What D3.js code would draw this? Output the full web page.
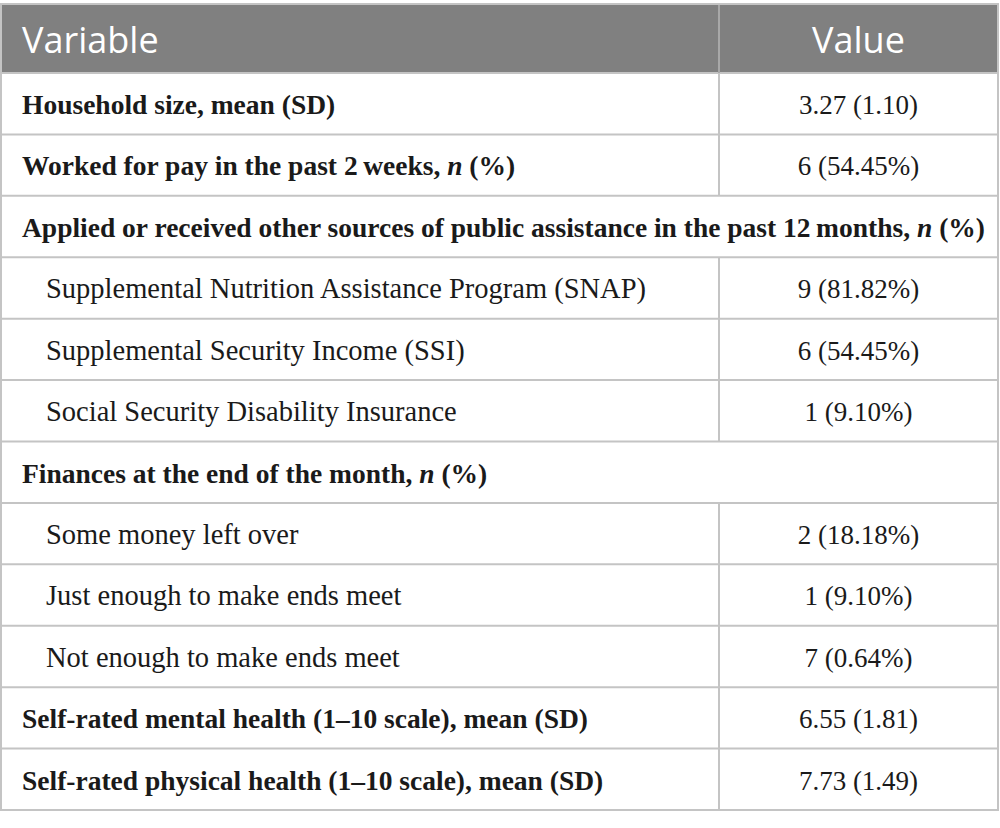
<!DOCTYPE html>
<html>
<head>
<meta charset="utf-8">
<title>Table</title>
<style>
  body { margin: 0; background: #fff; }
  svg { display: block; }
  .hdr { font-family: "Open Sans", sans-serif; fill: #fff; font-size: 36px; }
  .cell { font-family: "Liberation Serif", serif; fill: #1a1a1a; font-size: 27px; }
  .cell.bold { font-size: 27.5px; }
  .cell.sub { font-size: 28.5px; }
</style>
</head>
<body>
<div id="viewport"></div>
<script src="https://cdn.jsdelivr.net/npm/d3@7"></script>
<script>
// column headers
var headers = ["Variable", "Value"];

// row labels; *n* marks the italic n
var labels = [
  "Household size, mean (SD)",
  "Worked for pay in the past 2\u2009weeks, *n* (%)",
  "Applied or received other sources of public assistance in the past 12\u2009months, *n* (%)",
  "Supplemental Nutrition Assistance Program (SNAP)",
  "Supplemental Security Income (SSI)",
  "Social Security Disability Insurance",
  "Finances at the end of the month, *n* (%)",
  "Some money left over",
  "Just enough to make ends meet",
  "Not enough to make ends meet",
  "Self-rated mental health (1\u201310 scale), mean (SD)",
  "Self-rated physical health (1\u201310 scale), mean (SD)"
];

// row kind: b = bold row, g = bold group heading spanning, s = indented sub-row
var kinds = ["b", "b", "g", "s", "s", "s", "g", "s", "s", "s", "b", "b"];

var values = [
  "3.27 (1.10)", "6 (54.45%)", "", "9 (81.82%)", "6 (54.45%)", "1 (9.10%)",
  "", "2 (18.18%)", "1 (9.10%)", "7 (0.64%)", "6.55 (1.81)", "7.73 (1.49)"
];

var W = 1000, H = 828;
var x0 = 1, x1 = 998, y0 = 4, headBottom = 73, y1 = 810, split = 719;
var lineCol = "#c4c4c4";

var svg = d3.select("#viewport").append("svg")
  .attr("width", W).attr("height", H);

var y = d3.scaleBand()
  .domain(d3.range(labels.length))
  .range([headBottom, y1])
  .padding(0);

// header
svg.append("rect")
  .attr("x", x0).attr("y", y0)
  .attr("width", x1 - x0).attr("height", headBottom - y0)
  .attr("fill", "#808080");

svg.append("text").attr("class", "hdr")
  .attr("x", 22).attr("y", y0 + 49)
  .text(headers[0]);
svg.append("text").attr("class", "hdr")
  .attr("x", (split + x1) / 2).attr("y", y0 + 49)
  .attr("text-anchor", "middle")
  .text(headers[1]);

var rows = svg.selectAll("g.row")
  .data(labels.map(function (d, i) { return {label: d, kind: kinds[i], value: values[i], i: i}; }))
  .enter().append("g")
  .attr("class", "row")
  .attr("transform", function (d) { return "translate(0," + y(d.i) + ")"; });

// label text with italic n
rows.append("text")
  .attr("class", function (d) { return d.kind == "s" ? "cell sub" : "cell bold"; })
  .attr("x", function (d) { return d.kind == "s" ? 46 : 22; })
  .attr("y", 41)
  .attr("font-weight", function (d) { return d.kind == "s" ? "normal" : "bold"; })
  .each(function (d) {
    var t = d3.select(this);
    d.label.split("*").forEach(function (part, k) {
      if (!part) return;
      t.append("tspan")
        .attr("font-style", k % 2 ? "italic" : null)
        .text(part);
    });
  });

rows.append("text").attr("class", "cell")
  .attr("x", (split + x1) / 2).attr("y", 41)
  .attr("text-anchor", "middle")
  .text(function (d) { return d.value; });

// horizontal rules
svg.selectAll("line.h")
  .data(d3.range(labels.length + 1))
  .enter().append("line")
  .attr("x1", x0).attr("x2", x1)
  .attr("y1", function (i) { return i < labels.length ? y(i) : y1; })
  .attr("y2", function (i) { return i < labels.length ? y(i) : y1; })
  .attr("stroke", lineCol).attr("stroke-width", 2);

// vertical divider, skipped on group rows
svg.selectAll("line.v")
  .data(d3.range(labels.length).filter(function (i) { return kinds[i] != "g"; }))
  .enter().append("line")
  .attr("x1", split).attr("x2", split)
  .attr("y1", function (i) { return y(i); })
  .attr("y2", function (i) { return y(i) + y.bandwidth(); })
  .attr("stroke", lineCol).attr("stroke-width", 2);

// header divider and outer frame
svg.append("line")
  .attr("x1", split).attr("x2", split)
  .attr("y1", y0).attr("y2", headBottom)
  .attr("stroke", "#a8a8a8").attr("stroke-width", 2);

svg.append("rect")
  .attr("x", x0).attr("y", y0)
  .attr("width", x1 - x0).attr("height", y1 - y0)
  .attr("fill", "none")
  .attr("stroke", lineCol).attr("stroke-width", 2);
</script>
</body>
</html>
